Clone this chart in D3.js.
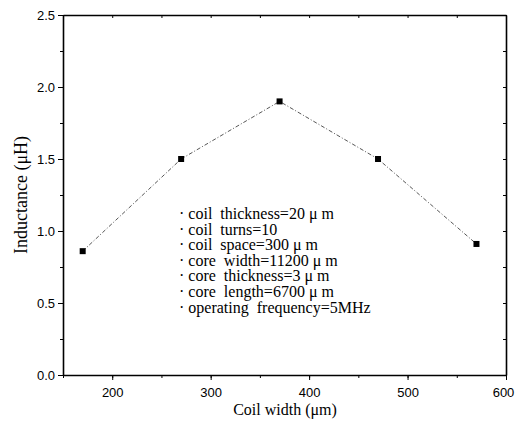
<!DOCTYPE html>
<meta charset="utf-8">
<style>
    body { margin: 0; background: #fff; }
    .tick text { font-family: 'Liberation Sans', Arial, sans-serif; font-size: 13px; fill: #000; }
    .domain, .tick line { stroke: #000; }
    .ann { font-family: 'Liberation Serif', 'Times New Roman', serif; font-size: 16px; fill: #000; }
    .axisTitle { font-family: 'Liberation Serif', 'Times New Roman', serif; fill: #000; }
</style>
<body>
<script src="https://d3js.org/d3.v7.min.js"></script>
<script>
    var coilWidth = [170, 270, 370, 470, 570];
    var inductance = [0.86, 1.5, 1.9, 1.5, 0.91];
    var xTicks = [200, 300, 400, 500, 600];
    var yTicks = [0.0, 0.5, 1.0, 1.5, 2.0, 2.5];
    var notes = [
        "coil  thickness=20 \u03bc m",
        "coil  turns=10",
        "coil  space=300 \u03bc m",
        "core  width=11200 \u03bc m",
        "core  thickness=3 \u03bc m",
        "core  length=6700 \u03bc m",
        "operating  frequency=5MHz"
    ];

    var width = 515,
        height = 433,
        margin = {top: 15, right: 9, bottom: 58, left: 63};
    var w = width - margin.left - margin.right,
        h = height - margin.top - margin.bottom;

    var svg = d3.select("body").append("svg")
        .attr("width", width)
        .attr("height", height);

    var g = svg.append("g")
        .attr("transform", "translate(" + margin.left + "," + margin.top + ")");

    var x = d3.scaleLinear().domain([150, 600]).range([0, w]);
    var y = d3.scaleLinear().domain([0, 2.5]).range([h, 0]);

    var xMinor = d3.range(150, 601, 50);
    var yMinor = d3.range(0, 2.51, 0.25);

    // minor ticks first, then major ones with labels
    g.append("g").attr("transform", "translate(0," + h + ")")
        .call(d3.axisBottom(x).tickValues(xMinor).tickSize(3).tickFormat(""))
        .select(".domain").remove();
    var xAxis = g.append("g").attr("transform", "translate(0," + h + ")")
        .call(d3.axisBottom(x).tickValues(xTicks).tickSize(5).tickSizeOuter(0).tickPadding(8));
    // last label sits right at the edge of the window
    xAxis.selectAll(".tick text").filter(function(d) { return d === 600; }).attr("dx", -3);

    g.append("g")
        .call(d3.axisLeft(y).tickValues(yMinor).tickSize(3).tickFormat(""))
        .select(".domain").remove();
    g.append("g")
        .call(d3.axisLeft(y).tickValues(yTicks).tickSize(5).tickSizeOuter(0).tickPadding(3).tickFormat(d3.format(".1f")));

    // mirrored axes, ticks pointing in
    g.append("g")
        .call(d3.axisTop(x).tickValues(xMinor).tickSize(-3).tickSizeOuter(0).tickFormat(""));
    g.append("g").attr("transform", "translate(" + w + ",0)")
        .call(d3.axisRight(y).tickValues(yMinor).tickSize(-3).tickSizeOuter(0).tickFormat(""));

    g.selectAll(".domain").attr("stroke-width", 1.6);

    var pts = coilWidth.map(function(d, i) { return [d, inductance[i]]; });

    g.append("path")
        .datum(pts)
        .attr("fill", "none")
        .attr("stroke", "#444")
        .attr("stroke-width", 0.9)
        .attr("stroke-dasharray", "4,2,1,2")
        .attr("d", d3.line()
            .x(function(d) { return x(d[0]); })
            .y(function(d) { return y(d[1]); }));

    g.selectAll(".pt")
        .data(pts)
        .enter().append("rect")
        .attr("class", "pt")
        .attr("x", function(d) { return x(d[0]) - 3; })
        .attr("y", function(d) { return y(d[1]) - 3; })
        .attr("width", 6)
        .attr("height", 6)
        .attr("fill", "#000");

    var ann = svg.append("g").attr("transform", "translate(179,219)");
    ann.selectAll("text")
        .data(notes)
        .enter().append("text")
        .attr("class", "ann")
        .attr("y", function(d, i) { return i * 15.6; })
        .attr("xml:space", "preserve")
        .text(function(d) { return "\u00b7 " + d; });

    svg.append("text")
        .attr("class", "axisTitle")
        .attr("text-anchor", "middle")
        .attr("font-size", 16)
        .attr("x", 285)
        .attr("y", 415)
        .text("Coil width (\u03bcm)");

    svg.append("text")
        .attr("class", "axisTitle")
        .attr("text-anchor", "middle")
        .attr("font-size", 18)
        .attr("transform", "translate(27,195) rotate(-90)")
        .text("Inductance (\u03bcH)");
</script>
</body>
